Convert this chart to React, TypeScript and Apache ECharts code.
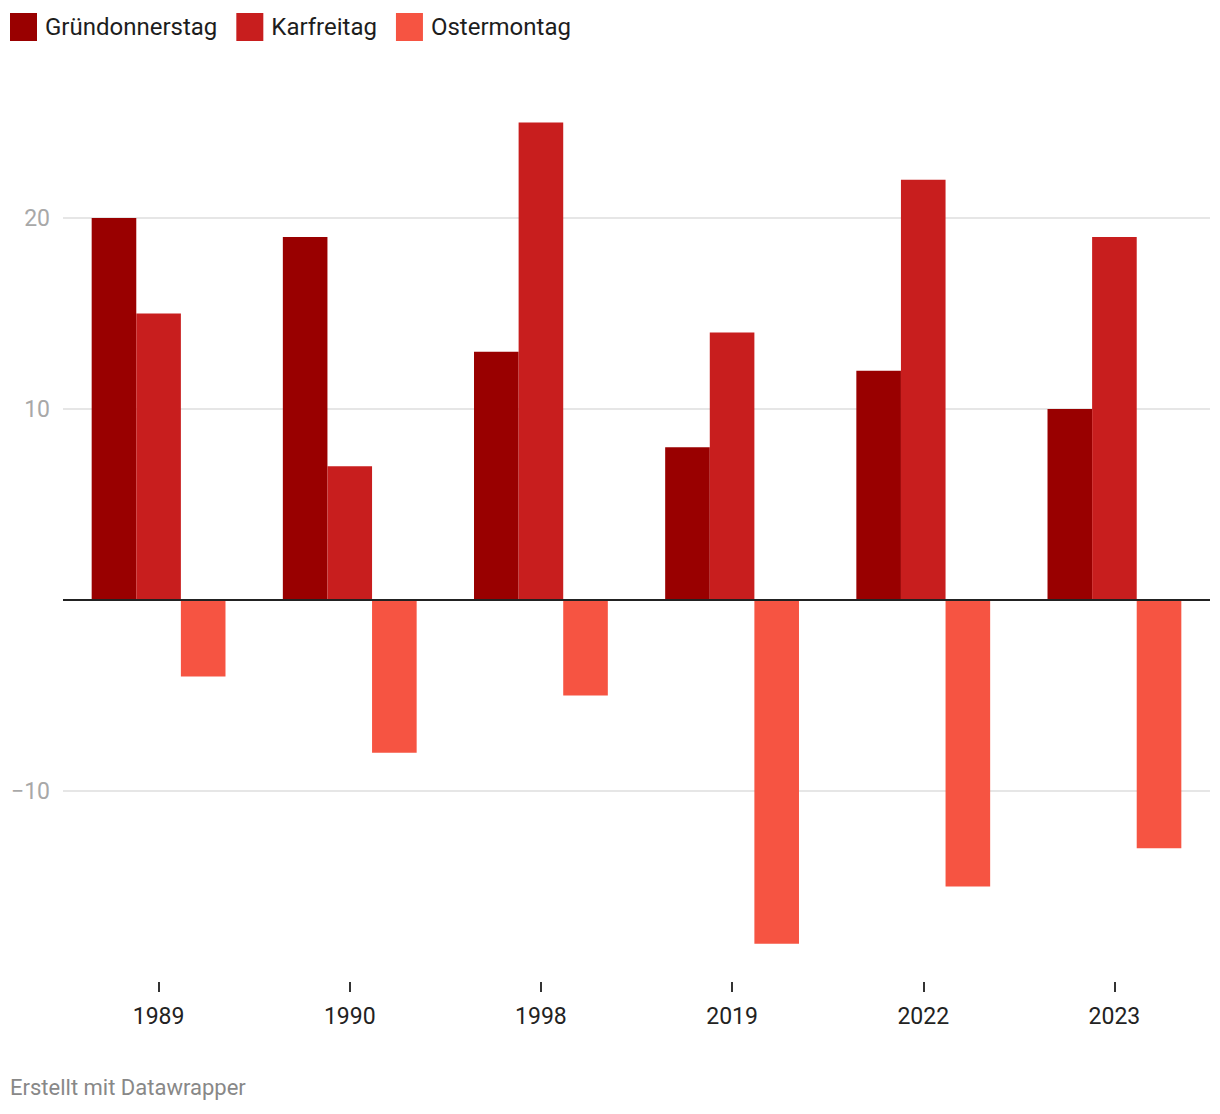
import React, { useEffect, useRef } from "react";
import * as echarts from "echarts";

const categories = ["1989", "1990", "1998", "2019", "2022", "2023"];
const seriesNames = ["Gründonnerstag", "Karfreitag", "Ostermontag"];
const gruendonnerstag = [20, 19, 13, 8, 12, 10];
const karfreitag = [15, 7, 25, 14, 22, 19];
const ostermontag = [-4, -8, -5, -18, -15, -13];
const colors = ["#990000", "#c81e1e", "#f65442"];
const yTicks = [-20, -10, 0, 10, 20, 30];
const shownYLabels = [-10, 10, 20];
const footer = "Erstellt mit Datawrapper";

const FONT = "Roboto, 'Noto Sans', sans-serif";

export default function App() {
  const ref = useRef<HTMLDivElement>(null);
  useEffect(() => {
    document.body.style.margin = "0";
    const chart = echarts.init(ref.current!, null, { renderer: "svg" });
    const values = [gruendonnerstag, karfreitag, ostermontag];
    const splitColors = yTicks.map((t) =>
      shownYLabels.includes(t) ? "#e6e6e6" : "rgba(0,0,0,0)"
    );
    chart.setOption({
      animation: false,
      backgroundColor: "#ffffff",
      textStyle: { fontFamily: FONT },
      legend: {
        left: 5,
        top: 8,
        itemWidth: 27,
        itemHeight: 28,
        itemGap: 19,
        icon: "rect",
        selectedMode: false,
        data: seriesNames,
        textStyle: {
          fontSize: 24,
          color: "#1d1d1d",
          fontFamily: FONT,
          padding: [0, 0, 0, 3],
        },
      },
      grid: { left: 63, right: 10, top: 27, bottom: 132, containLabel: false },
      xAxis: {
        type: "category",
        data: categories,
        position: "bottom",
        axisLine: { show: false, onZero: false },
        axisTick: {
          show: true,
          alignWithLabel: true,
          length: 10,
          lineStyle: { color: "#333333", width: 2 },
        },
        axisLabel: { fontSize: 23, color: "#222222", margin: 23, fontFamily: FONT },
        splitLine: { show: false },
      },
      yAxis: {
        type: "value",
        min: -20,
        max: 30,
        interval: 10,
        axisLine: { show: false },
        axisTick: { show: false },
        axisLabel: {
          fontSize: 23,
          color: "#a8a8a8",
          margin: 13,
          fontFamily: FONT,
          formatter: (v: number) =>
            shownYLabels.includes(v) ? String(v).replace("-", "\u2212") : "",
        },
        splitLine: { show: true, lineStyle: { color: splitColors, width: 2 } },
      },
      series: seriesNames.map((name, i) => ({
        name,
        type: "bar",
        data: values[i],
        barGap: "0%",
        barCategoryGap: "30%",
        itemStyle: { color: colors[i] },
        markLine:
          i === 2
            ? {
                silent: true,
                symbol: "none",
                label: { show: false },
                lineStyle: { color: "#222222", width: 2, type: "solid" },
                data: [{ yAxis: 0 }],
                z: 10,
              }
            : undefined,
      })),
      graphic: [
        {
          type: "text",
          left: 10,
          top: 1076,
          style: {
            text: footer,
            fontSize: 22,
            fill: "#888888",
            fontFamily: FONT,
          },
        },
      ],
    });
    return () => chart.dispose();
  }, []);
  return (
    <div
      ref={ref}
      style={{ position: "absolute", left: 0, top: 0, width: 1220, height: 1114 }}
    />
  );
}
